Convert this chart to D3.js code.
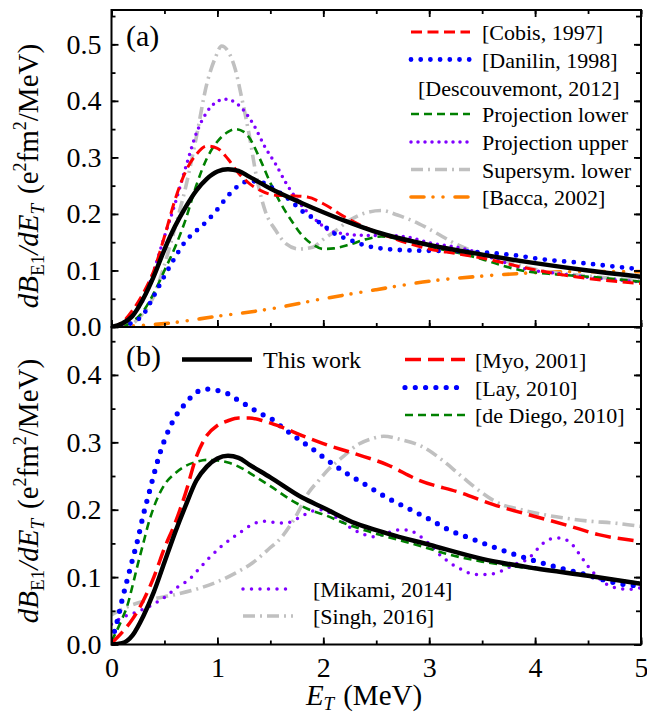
<!DOCTYPE html>
<html><head><meta charset="utf-8">
<script src="https://cdn.jsdelivr.net/npm/d3@7"></script>
<style>
body{margin:0;background:#fff}
svg{display:block}
svg text, svg tspan{font-family:'Liberation Serif','Tinos','Times New Roman','Times','DejaVu Serif',serif !important;fill:#000}
</style></head>
<body><svg id="c" width="647" height="715"></svg>
<script>
// ---------------- DATA (E_T in MeV, dB/dE in e^2 fm^2 / MeV) ----------------
const xTicks = [0, 1, 2, 3, 4, 5];
const yTicksA = [0.0, 0.1, 0.2, 0.3, 0.4, 0.5];
const yTicksB = [0.0, 0.1, 0.2, 0.3, 0.4];

// panel (a)
const thisWorkA = [[0,0],[0.1,0.006],[0.2,0.02],[0.3,0.05],[0.4,0.09],[0.5,0.137],[0.6,0.178],[0.7,0.212],[0.8,0.241],[0.9,0.262],[1.0,0.275],[1.1,0.279],[1.2,0.276],[1.3,0.266],[1.5,0.245],[1.8,0.219],[2.0,0.203],[2.2,0.188],[2.5,0.168],[3.0,0.145],[3.5,0.128],[4.0,0.113],[4.5,0.1],[5.0,0.089]];
const cobis = [[0,0],[0.1,0.008],[0.2,0.03],[0.3,0.06],[0.4,0.1],[0.5,0.16],[0.6,0.225],[0.7,0.275],[0.8,0.305],[0.9,0.32],[1.0,0.316],[1.1,0.297],[1.2,0.272],[1.3,0.254],[1.4,0.242],[1.55,0.233],[1.7,0.232],[1.85,0.23],[2.0,0.218],[2.2,0.195],[2.4,0.176],[2.6,0.161],[2.8,0.148],[3.0,0.138],[3.25,0.13],[3.5,0.122],[3.9,0.105],[4.3,0.091],[4.8,0.08],[5.0,0.077]];
const danilin = [[0,0],[0.1,0.002],[0.2,0.008],[0.3,0.022],[0.4,0.055],[0.5,0.09],[0.6,0.123],[0.7,0.152],[0.8,0.17],[0.9,0.187],[1.0,0.208],[1.1,0.232],[1.2,0.25],[1.3,0.258],[1.4,0.257],[1.5,0.248],[1.6,0.236],[1.7,0.222],[1.8,0.205],[1.9,0.193],[2.0,0.18],[2.1,0.166],[2.25,0.154],[2.4,0.144],[2.6,0.138],[2.9,0.135],[3.3,0.134],[3.5,0.132],[3.8,0.127],[4.1,0.119],[4.4,0.114],[4.65,0.109],[5.0,0.102]];
const projLower = [[0,0],[0.1,0.001],[0.2,0.01],[0.3,0.028],[0.4,0.06],[0.5,0.1],[0.6,0.141],[0.7,0.19],[0.8,0.25],[0.9,0.298],[1.0,0.328],[1.1,0.345],[1.17,0.35],[1.25,0.345],[1.3,0.335],[1.4,0.298],[1.5,0.255],[1.6,0.218],[1.7,0.188],[1.8,0.162],[1.9,0.146],[2.0,0.138],[2.1,0.139],[2.25,0.146],[2.4,0.155],[2.55,0.16],[2.7,0.156],[2.9,0.148],[3.1,0.138],[3.3,0.13],[3.5,0.12],[3.7,0.108],[3.9,0.099],[4.2,0.093],[4.5,0.089],[5.0,0.08]];
const projUpper = [[0,0],[0.1,0.006],[0.2,0.022],[0.3,0.048],[0.4,0.1],[0.5,0.16],[0.6,0.218],[0.7,0.282],[0.8,0.342],[0.9,0.38],[1.0,0.399],[1.07,0.403],[1.15,0.399],[1.25,0.383],[1.35,0.355],[1.45,0.318],[1.55,0.288],[1.65,0.254],[1.75,0.226],[1.85,0.203],[1.95,0.186],[2.05,0.171],[2.2,0.165],[2.4,0.162],[2.6,0.162],[2.8,0.159],[3.0,0.149],[3.2,0.143],[3.4,0.135],[3.7,0.115],[3.9,0.103],[4.2,0.095],[4.5,0.088],[5.0,0.08]];
const supersym = [[0,0],[0.15,0.002],[0.3,0.025],[0.4,0.055],[0.5,0.11],[0.6,0.176],[0.7,0.247],[0.8,0.335],[0.9,0.43],[0.98,0.476],[1.04,0.497],[1.1,0.488],[1.17,0.455],[1.23,0.405],[1.3,0.34],[1.37,0.265],[1.45,0.206],[1.55,0.171],[1.65,0.147],[1.77,0.138],[1.9,0.141],[2.0,0.155],[2.1,0.168],[2.25,0.189],[2.4,0.202],[2.55,0.206],[2.7,0.198],[2.9,0.183],[3.05,0.168],[3.25,0.147],[3.4,0.135],[3.7,0.118],[4.0,0.102],[4.5,0.09],[5.0,0.082]];
const bacca = [[0,0],[0.3,0.003],[0.5,0.006],[1.0,0.019],[1.5,0.032],[2.0,0.05],[2.5,0.066],[3.0,0.081],[3.5,0.09],[4.0,0.096],[4.5,0.098],[5.0,0.098]];

// panel (b)
const thisWorkB = [[0,0],[0.1,0.002],[0.2,0.014],[0.3,0.042],[0.4,0.078],[0.5,0.122],[0.6,0.166],[0.7,0.206],[0.8,0.243],[0.9,0.264],[1.0,0.276],[1.1,0.28],[1.2,0.277],[1.3,0.267],[1.5,0.248],[1.8,0.218],[2.0,0.203],[2.3,0.18],[2.6,0.165],[3.0,0.148],[3.5,0.127],[4.0,0.113],[4.5,0.102],[5.0,0.09]];
const myo = [[0,0.002],[0.1,0.018],[0.2,0.038],[0.3,0.065],[0.4,0.1],[0.5,0.143],[0.6,0.18],[0.7,0.225],[0.8,0.278],[0.9,0.31],[1.0,0.325],[1.1,0.332],[1.2,0.336],[1.3,0.336],[1.45,0.331],[1.6,0.323],[1.8,0.31],[2.0,0.298],[2.3,0.283],[2.6,0.267],[2.9,0.244],[3.3,0.225],[3.6,0.208],[4.0,0.19],[4.3,0.177],[4.6,0.163],[5.0,0.153]];
const lay = [[0,0.005],[0.05,0.032],[0.1,0.066],[0.15,0.097],[0.2,0.127],[0.25,0.157],[0.3,0.192],[0.35,0.222],[0.4,0.252],[0.45,0.28],[0.5,0.303],[0.6,0.337],[0.7,0.358],[0.8,0.374],[0.9,0.379],[1.0,0.377],[1.1,0.372],[1.2,0.362],[1.3,0.353],[1.4,0.343],[1.5,0.336],[1.6,0.324],[1.7,0.312],[1.8,0.301],[1.9,0.29],[2.0,0.278],[2.2,0.256],[2.4,0.237],[2.6,0.218],[2.8,0.202],[3.0,0.186],[3.2,0.169],[3.4,0.157],[3.6,0.145],[3.8,0.134],[4.0,0.124],[4.2,0.115],[4.4,0.107],[4.6,0.098],[4.8,0.09],[5.0,0.087]];
const deDiego = [[0,0.005],[0.1,0.038],[0.15,0.058],[0.2,0.088],[0.25,0.12],[0.3,0.15],[0.35,0.18],[0.4,0.204],[0.5,0.237],[0.6,0.254],[0.7,0.265],[0.8,0.271],[0.9,0.274],[1.0,0.273],[1.1,0.27],[1.2,0.264],[1.35,0.25],[1.5,0.235],[1.7,0.214],[1.9,0.198],[2.0,0.193],[2.2,0.18],[2.4,0.169],[2.6,0.16],[2.9,0.147],[3.2,0.133],[3.5,0.123],[3.9,0.114],[4.2,0.109],[4.5,0.102],[5.0,0.091]];
const mikami = [[0,0.03],[0.1,0.04],[0.2,0.046],[0.35,0.056],[0.5,0.07],[0.63,0.086],[0.73,0.096],[0.82,0.111],[0.92,0.128],[1.04,0.146],[1.14,0.158],[1.23,0.168],[1.33,0.178],[1.44,0.183],[1.55,0.181],[1.64,0.18],[1.77,0.188],[1.9,0.198],[2.0,0.2],[2.08,0.193],[2.17,0.183],[2.29,0.17],[2.39,0.163],[2.48,0.16],[2.6,0.165],[2.7,0.17],[2.8,0.17],[2.89,0.163],[2.99,0.151],[3.08,0.136],[3.18,0.123],[3.31,0.111],[3.43,0.104],[3.56,0.104],[3.68,0.109],[3.81,0.119],[3.94,0.128],[4.03,0.143],[4.13,0.156],[4.22,0.158],[4.32,0.153],[4.41,0.136],[4.5,0.116],[4.6,0.099],[4.72,0.086],[4.88,0.082],[5.0,0.084]];
const singh = [[0,0.044],[0.15,0.056],[0.35,0.066],[0.6,0.074],[0.8,0.082],[1.0,0.093],[1.17,0.106],[1.33,0.121],[1.48,0.141],[1.61,0.16],[1.74,0.19],[1.86,0.225],[1.96,0.244],[2.05,0.26],[2.19,0.279],[2.32,0.296],[2.45,0.305],[2.57,0.309],[2.73,0.304],[2.93,0.294],[3.12,0.274],[3.31,0.249],[3.5,0.225],[3.65,0.21],[3.87,0.2],[4.07,0.193],[4.26,0.188],[4.51,0.183],[4.76,0.18],[5.0,0.175]];

// ---------------- STYLES ----------------
const sty = {
  black:   {c:"#000000", w:4.5, d:null},
  redA:    {c:"#ff0000", w:3,   d:"11,5.5"},
  redB:    {c:"#ff0000", w:3.5, d:"16,7"},
  blueA:   {c:"#0000ff", w:4.8, d:"0,9.7"},
  blueB:   {c:"#0000ff", w:5.2, d:"0,10.3"},
  green:   {c:"#008000", w:2.6, d:"8,5"},
  purpleA: {c:"#8000ff", w:3.5, d:"0,7"},
  purpleB: {c:"#8000ff", w:3.5, d:"0,8.5"},
  gray:    {c:"#c0c0c0", w:3.6, d:"12,5,2,5"},
  orange:  {c:"#ff8000", w:3.6, d:"13,9,0,10,0,12"}
};

// ---------------- LAYOUT ----------------
const svg = d3.select("#c");
const L = 111.5, R = 641, aTop = 10, aBot = 327, bTop = 327, bBot = 644.5;
const x = d3.scaleLinear([0,5],[L,R]);
const yA = d3.scaleLinear([0,0.5607],[aBot,aTop]);
const yB = d3.scaleLinear([0,0.4711],[bBot,bTop]);
const FONT = "'Liberation Serif','Tinos','Times New Roman','Times','DejaVu Serif',serif";

const defs = svg.append("defs");
defs.append("clipPath").attr("id","clipA").append("rect").attr("x",L).attr("y",aTop).attr("width",R-L).attr("height",aBot-aTop);
defs.append("clipPath").attr("id","clipB").append("rect").attr("x",L).attr("y",bTop).attr("width",R-L).attr("height",bBot-bTop);

function isRound(s){ return s.d && (s.d.startsWith("0") || s.d.includes(",0,")); }
function drawSeries(g, data, y, s){
  const line = d3.line().x(d=>x(d[0])).y(d=>y(d[1])).curve(d3.curveMonotoneX);
  const p = g.append("path").datum(data).attr("d",line)
    .attr("fill","none").attr("stroke",s.c).attr("stroke-width",s.w)
    .attr("stroke-linejoin","round").attr("stroke-linecap", isRound(s) ? "round" : "butt");
  if (s.d) p.attr("stroke-dasharray",s.d);
}
function legendLine(x1,x2,yy,s){
  const p = svg.append("line").attr("x1",x1).attr("x2",x2).attr("y1",yy).attr("y2",yy)
    .attr("stroke",s.c).attr("stroke-width",s.w).attr("stroke-linecap", isRound(s) ? "round" : "butt");
  if (s.d) p.attr("stroke-dasharray",s.d);
}
function legendText(tx,yy,str,size){
  svg.append("text").attr("x",tx).attr("y",yy).attr("font-family",FONT).attr("font-size",size||22).text(str);
}

// ---------------- PANEL A ----------------
const gA = svg.append("g").attr("clip-path","url(#clipA)");
drawSeries(gA, bacca, yA, sty.orange);
drawSeries(gA, supersym, yA, sty.gray);
drawSeries(gA, projUpper, yA, sty.purpleA);
drawSeries(gA, projLower, yA, sty.green);
drawSeries(gA, danilin, yA, sty.blueA);
drawSeries(gA, cobis, yA, sty.redA);
drawSeries(gA, thisWorkA, yA, sty.black);

// ---------------- PANEL B ----------------
const gB = svg.append("g").attr("clip-path","url(#clipB)");
drawSeries(gB, singh, yB, sty.gray);
drawSeries(gB, mikami, yB, sty.purpleB);
drawSeries(gB, deDiego, yB, sty.green);
drawSeries(gB, lay, yB, sty.blueB);
drawSeries(gB, myo, yB, sty.redB);
drawSeries(gB, thisWorkB, yB, sty.black);

// ---------------- AXES ----------------
function styleAxis(g){
  g.attr("font-family",FONT);
  g.select(".domain").remove();
  g.selectAll(".tick line").attr("stroke","#000").attr("stroke-width",1.8);
  g.selectAll("text").attr("font-family",FONT).attr("font-size",28).attr("fill","#000");
}
const minorX = d3.range(0,5.01,0.5);
function panelAxes(y, top, bot, yMajor, yMax, showX, topTicks){
  const minorY = d3.range(0, yMax+0.0001, 0.05).map(v=>+v.toFixed(2));
  svg.append("g").attr("transform",`translate(${L},0)`)
    .call(d3.axisLeft(y).tickValues(minorY).tickSize(-4).tickFormat("")).call(styleAxis);
  svg.append("g").attr("transform",`translate(${L},0)`)
    .call(d3.axisLeft(y).tickValues(yMajor).tickSize(-7).tickPadding(10).tickFormat(d3.format(".1f"))).call(styleAxis);
  svg.append("g").attr("transform",`translate(${R},0)`)
    .call(d3.axisRight(y).tickValues(minorY).tickSize(-5).tickFormat("")).call(styleAxis);
  svg.append("g").attr("transform",`translate(${R},0)`)
    .call(d3.axisRight(y).tickValues(yMajor).tickSize(-7).tickFormat("")).call(styleAxis);
  svg.append("g").attr("transform",`translate(0,${bot})`)
    .call(d3.axisBottom(x).tickValues(minorX).tickSize(-4).tickFormat("")).call(styleAxis);
  const bx = svg.append("g").attr("transform",`translate(0,${bot})`)
    .call(d3.axisBottom(x).tickValues(xTicks).tickSize(-7).tickPadding(13).tickFormat(showX ? d3.format("d") : ""));
  styleAxis(bx);
  bx.selectAll("text").attr("dy","0.71em");
  if (topTicks){
    svg.append("g").attr("transform",`translate(0,${top})`)
      .call(d3.axisTop(x).tickValues(minorX).tickSize(-4).tickFormat("")).call(styleAxis);
    svg.append("g").attr("transform",`translate(0,${top})`)
      .call(d3.axisTop(x).tickValues(xTicks).tickSize(-7).tickFormat("")).call(styleAxis);
  }
  svg.append("rect").attr("x",L).attr("y",top).attr("width",R-L).attr("height",bot-top)
    .attr("fill","none").attr("stroke","#000").attr("stroke-width",2);
}
panelAxes(yA, aTop, aBot, yTicksA, 0.55, false, true);
panelAxes(yB, bTop, bBot, yTicksB, 0.45, true, false);

// ---------------- LABELS ----------------
function yLabel(cx, cy){
  const t = svg.append("text").attr("transform",`translate(${cx},${cy}) rotate(-90)`)
    .attr("text-anchor","middle").attr("font-family",FONT).attr("font-size",29);
  t.append("tspan").attr("font-style","italic").text("dB");
  t.append("tspan").attr("font-size",19).attr("dy",6).text("E1");
  t.append("tspan").attr("font-style","italic").attr("dy",-6).text("/dE");
  t.append("tspan").attr("font-style","italic").attr("font-size",19).attr("dy",6).text("T");
  t.append("tspan").attr("dy",-6).attr("dx",10).text("(e");
  t.append("tspan").attr("font-size",18).attr("dy",-12).text("2");
  t.append("tspan").attr("dy",12).text("fm");
  t.append("tspan").attr("font-size",18).attr("dy",-12).text("2");
  t.append("tspan").attr("dy",12).text("/MeV)");
}
yLabel(38, 176);
yLabel(38, 491);

const xl = svg.append("text").attr("x",364).attr("y",705).attr("text-anchor","middle")
  .attr("font-family",FONT).attr("font-size",29);
xl.append("tspan").attr("font-style","italic").text("E");
xl.append("tspan").attr("font-style","italic").attr("font-size",19).attr("dy",5).text("T");
xl.append("tspan").attr("dy",-5).attr("dx",9).text("(MeV)");

svg.append("text").attr("x",126).attr("y",46).attr("font-family",FONT).attr("font-size",30).text("(a)");
svg.append("text").attr("x",126).attr("y",366).attr("font-family",FONT).attr("font-size",30).text("(b)");

// ---------------- LEGENDS ----------------
legendLine(411,470,32,sty.redA);    legendText(482,40,"[Cobis, 1997]");
legendLine(411,470,59.5,sty.blueA); legendText(482,67.5,"[Danilin, 1998]");
legendText(418,95.5,"[Descouvemont, 2012]");
legendLine(411,470,114,sty.green);  legendText(482,122,"Projection lower");
legendLine(411,470,142,sty.purpleA);legendText(482,150,"Projection upper");
legendLine(411,470,169.5,sty.gray); legendText(482,177.5,"Supersym. lower");
legendLine(411,470,197,sty.orange); legendText(482,205,"[Bacca, 2002]");

legendLine(182,252,359.5,sty.black); legendText(263,368,"This work",24);
legendLine(405,465,359.5,sty.redB);  legendText(475,367.5,"[Myo, 2001]");
legendLine(405,465,387.5,sty.blueB); legendText(475,395.5,"[Lay, 2010]");
legendLine(405,465,415,sty.green);   legendText(475,423,"[de Diego, 2010]");
legendLine(243,293,589,sty.purpleB); legendText(313,597,"[Mikami, 2014]");
legendLine(243,293,616,sty.gray);    legendText(313,624,"[Singh, 2016]");
</script></body></html>
